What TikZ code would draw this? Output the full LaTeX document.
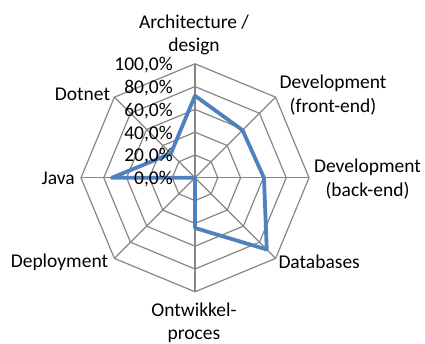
\documentclass[tikz,border=0pt]{standalone}
\usepackage{fontspec}
\setmainfont{Carlito}
\usepackage{xcolor}
\usetikzlibrary{positioning}
\definecolor{seriesblue}{RGB}{79,129,189}
\definecolor{gridgray}{RGB}{134,134,134}

\begin{document}
\begin{tikzpicture}[x=1pt, y=1pt,
    gridline/.style={draw=gridgray, line width=1.2pt},
    series/.style={draw=seriesblue, line width=3.8pt, line join=round},
    lbl/.style={font=\fontsize{19.5}{23.3}\selectfont, align=center, inner sep=0pt},
    ticklbl/.style={font=\fontsize{19.5}{23.3}\selectfont, anchor=east, inner sep=0pt}]
    \useasboundingbox (0,0) rectangle (425,344);
    \begin{scope}[shift={(195,166.2)}]
        % rings
        \foreach \r in {1,...,5} {
            \draw[gridline] (90:\r*22.8) -- (45:\r*22.8) -- (0:\r*22.8) -- (-45:\r*22.8)
                -- (-90:\r*22.8) -- (-135:\r*22.8) -- (180:\r*22.8) -- (135:\r*22.8) -- cycle;
        }
        % spokes
        \foreach \a in {90,45,0,-45,-90,-135,180,135} {
            \draw[gridline] (0,0) -- (\a:114);
        }
        % data
        \draw[series] (90:0.72*114) -- (45:0.59*114) -- (0:0.605*114) -- (-45:0.89*114)
            -- (-90:0.44*114) -- (0,0) -- (180:0.73*114) -- (135:0.30*114) -- cycle;
        % axis values
        \foreach \r/\t in {0/0,1/20,2/40,3/60,4/80,5/100} {
            \node[ticklbl] (tick\r) at (-22,\r*22.8-1.5) {\t,0\%};
        }
    \end{scope}
    \node[lbl] (arch) at (194,309) {Architecture /\\design};
    \node[lbl] (devfront) at (333,249) {Development\\(front-end)};
    \node[lbl] (devback) at (367.5,165) {Development\\(back-end)};
    \node[lbl, anchor=west] (databases) at (278.3,82.3) {Databases};
    \node[lbl] (ontw) at (194,21) {Ontwikkel-\\proces};
    \node[lbl, anchor=east] (deploy) at (108.3,81.5) {Deployment};
    \node[lbl, anchor=east] (java) at (75,166) {Java};
    \node[lbl] (dotnet) at (82.5,250) {Dotnet};
\end{tikzpicture}
\end{document}
